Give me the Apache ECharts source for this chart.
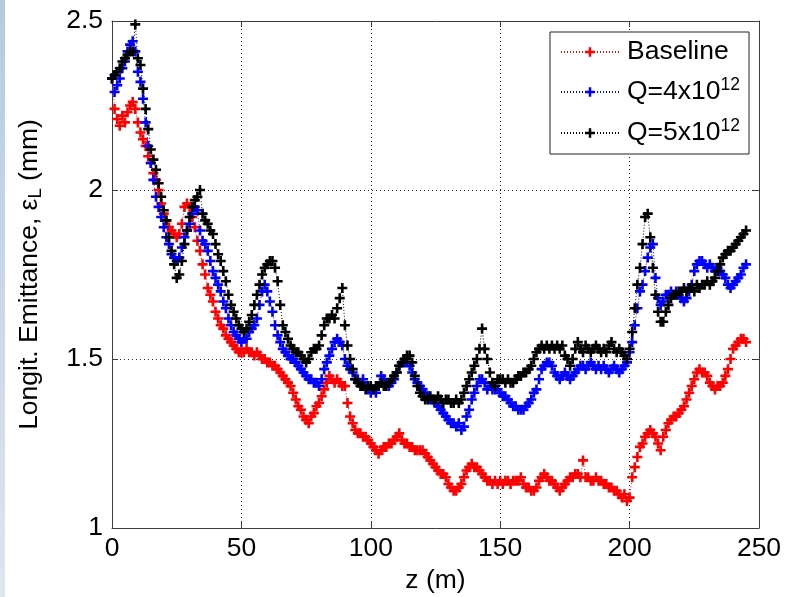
<!DOCTYPE html>
<html>
<head>
<meta charset="utf-8">
<script src="https://cdn.jsdelivr.net/npm/echarts@6/dist/echarts.min.js"></script>
<style>
  html, body { margin: 0; padding: 0; background: #ffffff; }
  #chart { width: 792px; height: 597px; }
</style>
</head>
<body>
<div id="chart"></div>
<script>
// Longitudinal emittance along the beamline, sampled every metre from z = 0 m
const Z_STEP = 1;

const seriesNames = ['Baseline', 'Q=4x10{sup|12}', 'Q=5x10{sup|12}'];
const seriesColors = ['#ff0000', '#0000ff', '#000000'];

const xTicks = [0, 50, 100, 150, 200, 250];
const yTicks = [1, 1.5, 2, 2.5];

const baseline = [
  2.33, 2.24, 2.21, 2.19, 2.22, 2.20, 2.23, 2.25, 2.26, 2.24,
  2.20, 2.17, 2.15, 2.13, 2.10, 2.08, 2.05, 2.03, 2.00, 1.96,
  1.93, 1.91, 1.89, 1.88, 1.87, 1.86, 1.87, 1.90, 1.95, 1.96,
  1.95, 1.92, 1.89, 1.85, 1.82, 1.78, 1.75, 1.71, 1.69, 1.67,
  1.64, 1.62, 1.60, 1.59, 1.57, 1.56, 1.55, 1.54, 1.53, 1.52,
  1.52, 1.52, 1.53, 1.52, 1.52, 1.51, 1.52, 1.51, 1.50, 1.50,
  1.49, 1.49, 1.48, 1.48, 1.47, 1.46, 1.45, 1.44, 1.43, 1.42,
  1.40, 1.38, 1.36, 1.35, 1.33, 1.32, 1.31, 1.33, 1.34, 1.36,
  1.37, 1.39, 1.41, 1.43, 1.45, 1.44, 1.43, 1.44, 1.43, 1.42,
  1.42, 1.37, 1.33, 1.31, 1.29, 1.28, 1.28, 1.27, 1.27, 1.26,
  1.25, 1.24, 1.23, 1.22, 1.23, 1.24, 1.24, 1.25, 1.25, 1.26,
  1.27, 1.28, 1.26, 1.25, 1.25, 1.24, 1.24, 1.23, 1.23, 1.23,
  1.23, 1.22, 1.21, 1.20, 1.19, 1.18, 1.17, 1.16, 1.16, 1.15,
  1.13, 1.12, 1.11, 1.11, 1.12, 1.13, 1.15, 1.17, 1.18, 1.19,
  1.18, 1.18, 1.17, 1.16, 1.15, 1.14, 1.14, 1.13, 1.14, 1.13,
  1.14, 1.13, 1.14, 1.14, 1.13, 1.14, 1.14, 1.14, 1.15, 1.13,
  1.12, 1.12, 1.11, 1.11, 1.12, 1.14, 1.15, 1.16, 1.15, 1.14,
  1.14, 1.13, 1.12, 1.11, 1.12, 1.13, 1.14, 1.15, 1.15, 1.16,
  1.16, 1.15, 1.20, 1.15, 1.15, 1.14, 1.14, 1.15, 1.14, 1.14,
  1.13, 1.13, 1.12, 1.12, 1.11, 1.11, 1.10, 1.09, 1.10, 1.08,
  1.09, 1.15, 1.18, 1.21, 1.24, 1.25, 1.27, 1.28, 1.29, 1.28,
  1.27, 1.25, 1.23, 1.27, 1.29, 1.31, 1.32, 1.33, 1.33, 1.34,
  1.35, 1.36, 1.38, 1.40, 1.42, 1.44, 1.46, 1.47, 1.46, 1.46,
  1.45, 1.43, 1.42, 1.41, 1.42, 1.42, 1.43, 1.45, 1.47, 1.50,
  1.53, 1.54, 1.55, 1.56, 1.56, 1.55
];

const q4e12 = [
  2.33, 2.29, 2.31, 2.33, 2.36, 2.38, 2.41, 2.43, 2.44, 2.41,
  2.35, 2.32, 2.27, 2.20, 2.13, 2.08, 2.03, 1.98, 1.95, 1.92,
  1.89, 1.86, 1.84, 1.81, 1.80, 1.79, 1.80, 1.83, 1.86, 1.88,
  1.90, 1.93, 1.95, 1.94, 1.88, 1.85, 1.84, 1.82, 1.79, 1.76,
  1.74, 1.72, 1.70, 1.67, 1.65, 1.62, 1.60, 1.58, 1.57, 1.56,
  1.55, 1.56, 1.56, 1.58, 1.59, 1.60, 1.62, 1.66, 1.70, 1.72,
  1.70, 1.67, 1.64, 1.60, 1.57, 1.55, 1.53, 1.52, 1.51, 1.50,
  1.50, 1.49, 1.48, 1.47, 1.46, 1.45, 1.44, 1.44, 1.43, 1.43,
  1.42, 1.44, 1.47, 1.49, 1.51, 1.53, 1.55, 1.56, 1.55, 1.54,
  1.50, 1.48, 1.47, 1.46, 1.44, 1.44, 1.43, 1.44, 1.42, 1.41,
  1.40, 1.41, 1.40, 1.42, 1.45, 1.44, 1.43, 1.42, 1.43, 1.44,
  1.46, 1.48, 1.49, 1.49, 1.49, 1.48, 1.46, 1.44, 1.43, 1.42,
  1.41, 1.40, 1.39, 1.38, 1.38, 1.37, 1.36, 1.35, 1.34, 1.33,
  1.32, 1.31, 1.31, 1.30, 1.31, 1.29, 1.30, 1.33, 1.35, 1.38,
  1.40, 1.42, 1.44, 1.44, 1.43, 1.41, 1.42, 1.41, 1.41, 1.41,
  1.40, 1.39, 1.39, 1.38, 1.37, 1.36, 1.36, 1.35, 1.35, 1.35,
  1.36, 1.37, 1.38, 1.40, 1.41, 1.44, 1.47, 1.48, 1.49, 1.49,
  1.48, 1.46, 1.45, 1.44, 1.45, 1.46, 1.45, 1.44, 1.45, 1.46,
  1.47, 1.48, 1.48, 1.47, 1.48, 1.49, 1.48, 1.47, 1.48, 1.47,
  1.48, 1.47, 1.46, 1.47, 1.48, 1.47, 1.46, 1.47, 1.48, 1.49,
  1.52, 1.55, 1.60, 1.65, 1.70, 1.72, 1.76, 1.80, 1.83, 1.84,
  1.74, 1.68, 1.66, 1.67, 1.69, 1.69, 1.70, 1.69, 1.70, 1.69,
  1.68, 1.67, 1.68, 1.70, 1.72, 1.76, 1.78, 1.79, 1.79, 1.78,
  1.77, 1.78, 1.77, 1.76, 1.77, 1.76, 1.75, 1.74, 1.72, 1.71,
  1.72, 1.73, 1.74, 1.75, 1.77, 1.78
];

const q5e12 = [
  2.33, 2.34, 2.35, 2.36, 2.38, 2.39, 2.40, 2.41, 2.41, 2.49,
  2.39, 2.37, 2.30, 2.24, 2.18, 2.12, 2.09, 2.06, 2.02, 1.98,
  1.94, 1.91, 1.86, 1.82, 1.78, 1.74, 1.75, 1.79, 1.84, 1.88,
  1.92, 1.95, 1.97, 1.98, 2.00, 1.93, 1.91, 1.90, 1.88, 1.87,
  1.84, 1.81, 1.79, 1.76, 1.73, 1.69, 1.66, 1.64, 1.62, 1.60,
  1.59, 1.58, 1.59, 1.61, 1.63, 1.66, 1.69, 1.72, 1.75, 1.77,
  1.78, 1.79, 1.79, 1.77, 1.73, 1.66, 1.60, 1.58, 1.56, 1.54,
  1.53, 1.52, 1.52, 1.51, 1.50, 1.49, 1.50, 1.52, 1.53, 1.53,
  1.54, 1.57, 1.60, 1.62, 1.62, 1.63, 1.62, 1.65, 1.68, 1.71,
  1.60, 1.54, 1.50, 1.47, 1.44, 1.43, 1.42, 1.42, 1.41, 1.42,
  1.42, 1.41, 1.42, 1.42, 1.43, 1.42, 1.42, 1.43, 1.44, 1.45,
  1.46, 1.48, 1.49, 1.50, 1.51, 1.51, 1.49, 1.45, 1.42, 1.40,
  1.39, 1.38, 1.38, 1.39, 1.38, 1.38, 1.39, 1.38, 1.37, 1.38,
  1.38, 1.37, 1.37, 1.38, 1.37, 1.38, 1.40, 1.42, 1.44, 1.46,
  1.48, 1.50, 1.53, 1.59, 1.53, 1.50, 1.46, 1.43, 1.42, 1.44,
  1.44, 1.44, 1.43, 1.44, 1.43, 1.43, 1.44, 1.45, 1.45, 1.46,
  1.46, 1.47, 1.48, 1.50, 1.52, 1.53, 1.54, 1.53, 1.54, 1.53,
  1.54, 1.53, 1.54, 1.53, 1.54, 1.51, 1.50, 1.48, 1.50, 1.53,
  1.55, 1.53, 1.52, 1.54, 1.53, 1.52, 1.53, 1.54, 1.53, 1.52,
  1.53, 1.52, 1.54, 1.55, 1.53, 1.52, 1.53, 1.52, 1.51, 1.50,
  1.53, 1.58, 1.65, 1.72, 1.77, 1.84, 1.92, 1.93, 1.86, 1.77,
  1.69, 1.64, 1.61, 1.61, 1.64, 1.66, 1.68, 1.69, 1.69, 1.70,
  1.70, 1.71, 1.70, 1.71, 1.71, 1.70, 1.72, 1.71, 1.72, 1.72,
  1.73, 1.72, 1.73, 1.74, 1.76, 1.78, 1.80, 1.81, 1.82, 1.82,
  1.83, 1.84, 1.85, 1.86, 1.87, 1.88
];

const seriesValues = [baseline, q4e12, q5e12];

const FONT = '"Liberation Sans", Arial, Helvetica, sans-serif';
const FS = 26.5;
// plus-shaped marker with heavy arms
const PLUS = 'path://M3.7,0H6.3V3.7H10V6.3H6.3V10H3.7V6.3H0V3.7H3.7Z';

const chart = echarts.init(document.getElementById('chart'), null, { renderer: 'canvas' });

const frameAxisX = {
  type: 'value', min: xTicks[0], max: xTicks[xTicks.length - 1], interval: 50,
  axisLine: { show: true, onZero: false, lineStyle: { color: '#3c3c3c', width: 1 } },
  axisTick: { show: true, inside: true, length: 6, lineStyle: { color: '#3c3c3c' } },
};
const frameAxisY = {
  type: 'value', min: yTicks[0], max: yTicks[yTicks.length - 1], interval: 0.5,
  axisLine: { show: true, onZero: false, lineStyle: { color: '#3c3c3c', width: 1 } },
  axisTick: { show: true, inside: true, length: 6, lineStyle: { color: '#3c3c3c' } },
};
const gridDots = { show: true, lineStyle: { color: '#222', width: 1, type: [1, 3] } };

chart.setOption({
  animation: false,
  backgroundColor: '#ffffff',
  textStyle: { fontFamily: FONT },
  graphic: [{
    type: 'rect', left: 0, top: 0, z: -10,
    shape: { width: 5, height: 597 },
    style: {
      fill: new echarts.graphic.LinearGradient(0, 0, 0, 1, [
        { offset: 0, color: '#b7cadd' },
        { offset: 1, color: '#dde6ef' }
      ])
    }
  }],
  grid: {
    left: 112, top: 21, width: 647, height: 507,
    containLabel: false, outerBoundsMode: 'none'
  },
  legend: {
    left: 550, top: 32,
    orient: 'vertical',
    backgroundColor: '#ffffff',
    borderColor: '#222', borderWidth: 1,
    padding: [5, 9, 5, 10],
    itemWidth: 58, itemHeight: 12, itemGap: 9,
    data: seriesNames,
    textStyle: {
      fontFamily: FONT, fontSize: FS, color: '#000', lineHeight: 30,
      padding: [0, 0, 0, 3],
      rich: {
        sup: { fontSize: 17.5, fontFamily: FONT, color: '#000', lineHeight: 30, padding: [0, 0, 14, 0] }
      }
    }
  },
  xAxis: [
    Object.assign({}, frameAxisX, {
      position: 'bottom',
      name: 'z (m)', nameLocation: 'middle', nameGap: 37,
      nameTextStyle: { fontFamily: FONT, fontSize: FS, color: '#000' },
      axisLabel: { show: true, margin: 7, fontFamily: FONT, fontSize: FS, color: '#000' },
      splitLine: gridDots
    }),
    Object.assign({}, frameAxisX, {
      position: 'top', axisLabel: { show: false }, splitLine: { show: false }
    })
  ],
  yAxis: [
    Object.assign({}, frameAxisY, {
      position: 'left',
      name: 'Longit. Emittance, ε{sub|L} (mm)', nameLocation: 'middle', nameGap: 67,
      nameRotate: 90,
      nameTextStyle: {
        fontFamily: FONT, fontSize: FS, color: '#000',
        rich: { sub: { fontSize: 18.5, fontFamily: FONT, color: '#000', padding: [12, 0, 0, 0] } }
      },
      axisLabel: { show: true, margin: 9, fontFamily: FONT, fontSize: FS, color: '#000' },
      splitLine: gridDots
    }),
    Object.assign({}, frameAxisY, {
      position: 'right', axisLabel: { show: false }, splitLine: { show: false }
    })
  ],
  series: seriesValues.map((vals, k) => ({
    name: seriesNames[k],
    type: 'line',
    xAxisIndex: 0, yAxisIndex: 0,
    data: vals.map((v, i) => [i * Z_STEP, v]),
    symbol: PLUS,
    symbolSize: 10,
    showAllSymbol: true,
    color: seriesColors[k],
    itemStyle: { color: seriesColors[k], borderWidth: 0 },
    lineStyle: { color: seriesColors[k], width: 1, type: [1, 2] },
    z: 2 + k
  }))
});
</script>
</body>
</html>
